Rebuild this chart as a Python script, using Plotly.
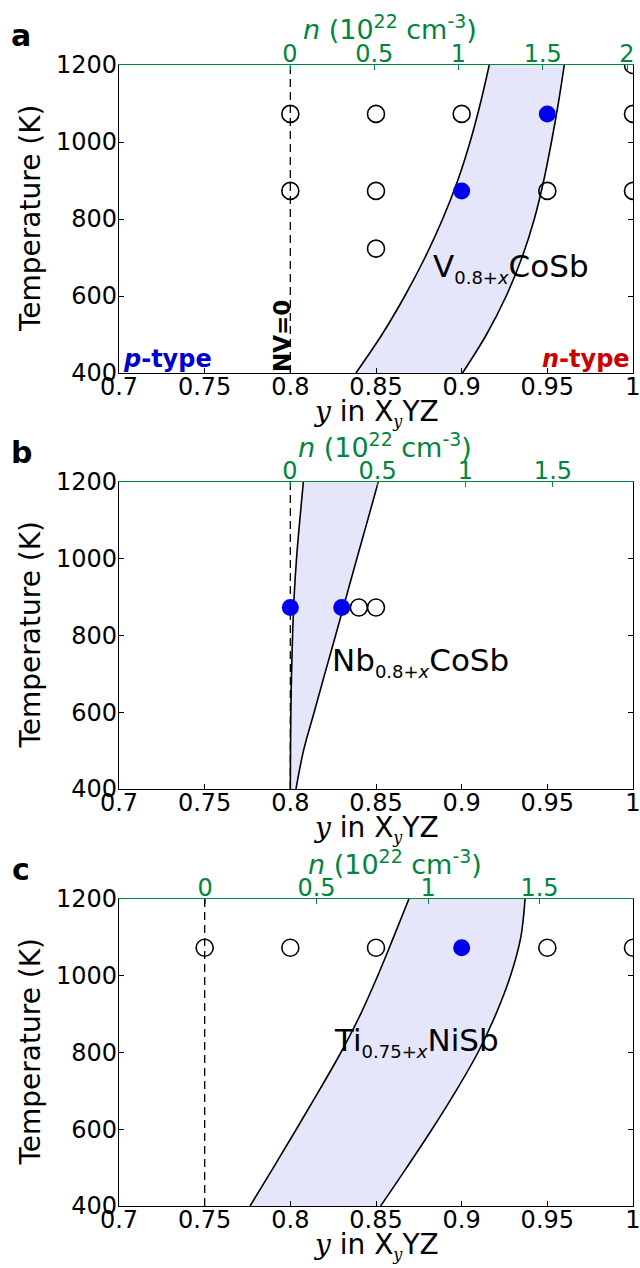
import plotly.graph_objects as go

# Temperature grid (K) on which the n-type stability band boundaries are sampled
T_GRID = [400, 500, 600, 700, 800, 900, 1000, 1100, 1200]

# Panel a: V(0.8+x)CoSb
a_lower = [0.8383, 0.8535, 0.8668, 0.8786, 0.8889, 0.8977, 0.9049, 0.9109, 0.9161]
a_upper = [0.9005, 0.9145, 0.9260, 0.9352, 0.9424, 0.9479, 0.9524, 0.9564, 0.9599]
a_open_y = [0.80, 0.85, 0.90, 1.00, 0.80, 0.85, 0.95, 1.00, 0.85, 1.00]
a_open_T = [1073, 1073, 1073, 1073, 873, 873, 873, 873, 723, 1200]
a_fill_y = [0.90, 0.95]
a_fill_T = [873, 1073]

# Panel b: Nb(0.8+x)CoSb
b_lower = [0.8000, 0.8001, 0.8003, 0.8007, 0.8013, 0.8022, 0.8036, 0.8055, 0.8076]
b_upper = [0.8033, 0.8077, 0.8139, 0.8201, 0.8264, 0.8326, 0.8388, 0.8451, 0.8513]
b_open_y = [0.84, 0.85]
b_open_T = [873, 873]
b_fill_y = [0.80, 0.83]
b_fill_T = [873, 873]

# Panel c: Ti(0.75+x)NiSb
c_lower = [0.7765, 0.7901, 0.8035, 0.8167, 0.8295, 0.8410, 0.8510, 0.8602, 0.8692]
c_upper = [0.8527, 0.8679, 0.8827, 0.8967, 0.9095, 0.9200, 0.9285, 0.9345, 0.9370]
c_open_y = [0.75, 0.80, 0.85, 0.95, 1.00]
c_open_T = [1073, 1073, 1073, 1073, 1073]
c_fill_y = [0.90]
c_fill_T = [1073]

# Composition (NV = 0) line for each compound
nv0 = [0.80, 0.80, 0.75]

# Bottom axis ticks
Y_TICKS = [0.7, 0.75, 0.8, 0.85, 0.9, 0.95, 1.0]
Y_TICK_TEXT = ["0.7", "0.75", "0.8", "0.85", "0.9", "0.95", "1"]
T_TICKS = [400, 600, 800, 1000, 1200]

# Top axis (carrier concentration, 1e22 cm^-3) ticks and ranges
n_ticks = [[0, 0.5, 1, 1.5, 2], [0, 0.5, 1, 1.5], [0, 0.5, 1, 1.5]]
n_tick_text = [["0", "0.5", "1", "1.5", "2"], ["0", "0.5", "1", "1.5"], ["0", "0.5", "1", "1.5"]]
n_ranges = [[-1.0148, 2.0356], [-0.9755, 1.9567], [-0.3857, 1.919]]

labels = [
    "V<sub><span style='font-size:18px'>0.8+<i>x</i></span></sub>CoSb",
    "Nb<sub><span style='font-size:18px'>0.8+<i>x</i></span></sub>CoSb",
    "Ti<sub><span style='font-size:18px'>0.75+<i>x</i></span></sub>NiSb",
]
letters = ["a", "b", "c"]

W, H = 640, 1268
GREEN = "#00853e"
FILL = "#e6e6fa"
BLUE = "#0000ee"
FONT = "DejaVu Sans"

# Pixel boxes of the three plot areas (top, bottom)
X0, X1 = 119, 633
boxes = [(65, 373), (482, 789), (899, 1206)]
label_pos = [(511, 268), (420, 662), (416, 1042)]
ntitle_x = [390, 385, 395]


def px(x):
    return x / W


def py(y):
    return 1 - y / H


fig = go.Figure()
layout = dict(
    width=W, height=H,
    margin=dict(l=0, r=0, t=0, b=0, autoexpand=False),
    paper_bgcolor="white", plot_bgcolor="white",
    showlegend=False,
    font=dict(family=FONT, size=24, color="black"),
)
annotations = []

panels = [
    (a_lower, a_upper, a_open_y, a_open_T, a_fill_y, a_fill_T),
    (b_lower, b_upper, b_open_y, b_open_T, b_fill_y, b_fill_T),
    (c_lower, c_upper, c_open_y, c_open_T, c_fill_y, c_fill_T),
]

for i, (lo, up, oy, oT, fy, fT) in enumerate(panels):
    xb = "x" if i == 0 else f"x{2 * i + 1}"
    xt = f"x{2 * i + 2}"
    ya = "y" if i == 0 else f"y{i + 1}"
    xb_key = "xaxis" if i == 0 else f"xaxis{2 * i + 1}"
    xt_key = f"xaxis{2 * i + 2}"
    ya_key = "yaxis" if i == 0 else f"yaxis{i + 1}"
    top, bot = boxes[i]

    # stability band
    fig.add_trace(go.Scatter(x=lo, y=T_GRID, xaxis=xb, yaxis=ya, mode="lines",
                             line=dict(color="black", width=1.6, shape="spline"),
                             hoverinfo="skip"))
    fig.add_trace(go.Scatter(x=up, y=T_GRID, xaxis=xb, yaxis=ya, mode="lines",
                             line=dict(color="black", width=1.6, shape="spline"),
                             fill="tonextx", fillcolor=FILL, hoverinfo="skip"))
    # NV = 0 line
    fig.add_trace(go.Scatter(x=[nv0[i], nv0[i]], y=[400, 1200], xaxis=xb, yaxis=ya,
                             mode="lines", line=dict(color="black", width=1.3, dash="8px,5px")))
    # synthesised samples
    fig.add_trace(go.Scatter(x=oy, y=oT, xaxis=xb, yaxis=ya, mode="markers",
                             marker=dict(symbol="circle-open", size=17, color="black",
                                         line=dict(width=1.6, color="black"))))
    fig.add_trace(go.Scatter(x=fy, y=fT, xaxis=xb, yaxis=ya, mode="markers",
                             marker=dict(symbol="circle", size=17, color=BLUE,
                                         line=dict(width=0))))
    # carrier-concentration axis carrier trace
    fig.add_trace(go.Scatter(x=[None], y=[None], xaxis=xt, yaxis=ya, mode="markers",
                             hoverinfo="skip"))

    layout[xb_key] = dict(
        domain=[px(X0), px(X1)], range=[0.7, 1.0], anchor=ya, automargin=False,
        showgrid=False, zeroline=False, showline=True, linecolor="black", linewidth=1.3,
        ticks="inside", ticklen=5, tickwidth=1, tickcolor="black",
        tickvals=Y_TICKS, ticktext=Y_TICK_TEXT, ticklabelstandoff=-8,
        ticklabeloverflow="allow",
        tickfont=dict(family=FONT, size=24, color="black"),
    )
    layout[xt_key] = dict(
        overlaying=xb, side="top", anchor=ya, range=n_ranges[i], automargin=False,
        showgrid=False, zeroline=False, showline=True, linecolor=GREEN, linewidth=1.3,
        ticks="inside", ticklen=5, tickwidth=1, tickcolor=GREEN,
        tickvals=n_ticks[i], ticktext=n_tick_text[i], ticklabelstandoff=-8,
        ticklabeloverflow="allow",
        tickfont=dict(family=FONT, size=24, color=GREEN),
    )
    layout[ya_key] = dict(
        domain=[py(bot), py(top)], range=[400, 1200], anchor=xb, automargin=False,
        showgrid=False, zeroline=False, showline=True, linecolor="black", linewidth=1.3,
        mirror="ticks", ticks="inside", ticklen=5, tickwidth=1, tickcolor="black",
        tickvals=T_TICKS, ticklabelstandoff=-4,
        tickfont=dict(family=FONT, size=24, color="black"),
    )

    # texts
    annotations.append(dict(x=px(label_pos[i][0]), y=py(label_pos[i][1]), xref="paper", yref="paper",
                            text=labels[i], showarrow=False, xanchor="center", yanchor="middle",
                            font=dict(family=FONT, size=31, color="black")))
    annotations.append(dict(x=px(ntitle_x[i]), y=py(top - 37), xref="paper", yref="paper",
                            text="<i>n</i> (10<sup>22</sup> cm<sup>-3</sup>)", showarrow=False,
                            xanchor="center", yanchor="middle",
                            font=dict(family=FONT, size=27, color=GREEN)))
    annotations.append(dict(x=px((X0 + X1) / 2), y=py(bot + 40), xref="paper", yref="paper",
                            text="<span style='font-family:DejaVu Serif'><i>y</i></span> in X"
                                 "<sub><span style='font-family:DejaVu Serif;font-size:16px'><i>y</i></span></sub>YZ",
                            showarrow=False, xanchor="center", yanchor="middle",
                            font=dict(family=FONT, size=28, color="black")))
    annotations.append(dict(x=px(30), y=py((top + bot) / 2), xref="paper", yref="paper",
                            text="Temperature (K)", textangle=-90, showarrow=False,
                            xanchor="center", yanchor="middle",
                            font=dict(family=FONT, size=28, color="black")))
    annotations.append(dict(x=px(21), y=py(top - 30), xref="paper", yref="paper",
                            text=f"<b>{letters[i]}</b>", showarrow=False,
                            xanchor="center", yanchor="middle",
                            font=dict(family=FONT, size=30, color="black")))

# carrier-type markers and NV = 0 label in panel a
annotations.append(dict(x=px(282), y=py(336), xref="paper", yref="paper",
                        text="<b>NV=0</b>", textangle=-90, showarrow=False,
                        xanchor="center", yanchor="middle",
                        font=dict(family=FONT, size=23, color="black")))
annotations.append(dict(x=px(121), y=py(359), xref="paper", yref="paper",
                        text="<b><i>p</i>-type</b>", showarrow=False,
                        xanchor="left", yanchor="middle",
                        font=dict(family=FONT, size=24, color="#0000cc")))
annotations.append(dict(x=px(632), y=py(359), xref="paper", yref="paper",
                        text="<b><i>n</i>-type</b>", showarrow=False,
                        xanchor="right", yanchor="middle",
                        font=dict(family=FONT, size=24, color="#cc0000")))

layout["annotations"] = annotations
fig.update_layout(**layout)
fig.write_html("out.html")
